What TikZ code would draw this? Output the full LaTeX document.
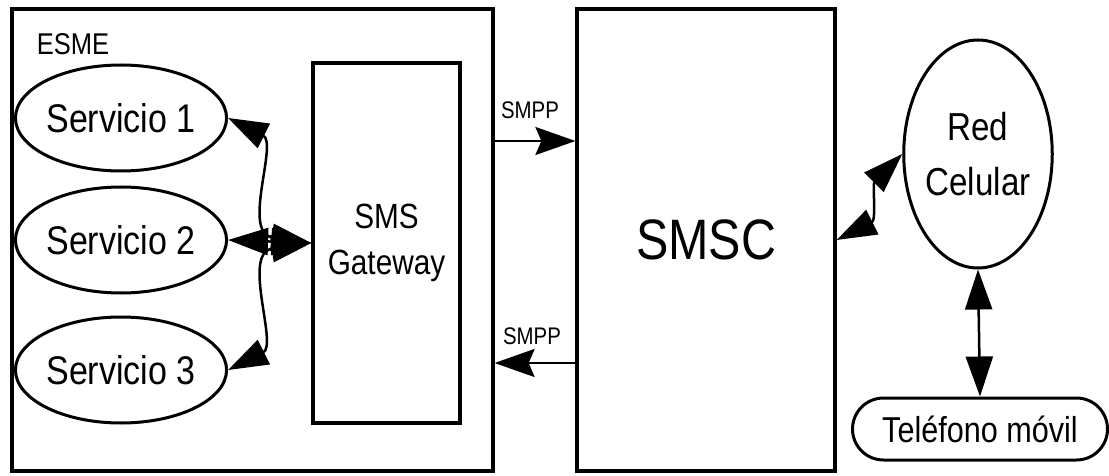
\documentclass[tikz,border=0pt]{standalone}
\usepackage{fontspec}
\setmainfont[FakeStretch=0.85]{Liberation Sans}
\usetikzlibrary{shapes.geometric,arrows.meta}

\begin{document}
\begin{tikzpicture}[x=1pt,y=-1pt,
    box/.style={draw,rectangle,line width=3.2pt,inner sep=0pt},
    serv/.style={draw,ellipse,line width=3pt,inner sep=0pt,
      minimum width=198pt,minimum height=106pt,font=\fontsize{40}{44}\selectfont},
    dbl/.style={line width=2.5pt,{Triangle[length=40pt,width=27pt]}-{Triangle[length=40pt,width=27pt]}},
    smpp/.style={line width=2.5pt,-{Stealth[length=40pt,width=28pt,inset=6pt]}}]
      \useasboundingbox (0,0) rectangle (1109,476);
      %
      \node[box,minimum width=481pt,minimum height=462pt] (esme) at (252.5,240) {};
      \node[font=\fontsize{30}{34}\selectfont] (esmelbl) at (73,44) {ESME};
      \node[box,minimum width=258pt,minimum height=462pt,font=\fontsize{57}{62}\selectfont] (smsc) at (706,240) {SMSC};
      \node[box,minimum width=147pt,minimum height=360pt,align=center,
        font=\fontsize{35}{46}\selectfont] (gw) at (386.5,243) {SMS\\Gateway};
      %
      \node[serv] (s1) at (121,118) {Servicio 1};
      \node[serv] (s2) at (121,240) {Servicio 2};
      \node[serv] (s3) at (121,370) {Servicio 3};
      %
      \node[draw,ellipse,line width=3pt,inner sep=0pt,minimum width=126pt,minimum height=228pt,
        align=center,font=\fontsize{39}{55}\selectfont] (red) at (978,154) {Red\\Celular};
      \node[draw,rectangle,rounded corners=31pt,line width=3pt,minimum width=255pt,minimum height=62pt,
        font=\fontsize{36}{40}\selectfont] (tel) at (980,429) {Teléfono móvil};
      %
      \draw[dbl] (s1.east) .. controls +(50,25) and +(-70,-10) .. (gw.west);
      \draw[dbl] (s2.east) -- (gw.west);
      \draw[dbl] (s3.east) .. controls +(50,-25) and +(-70,10) .. (gw.west);
      %
      \node[font=\fontsize{24}{28}\selectfont] (smppa) at (530,110) {SMPP};
      \node[font=\fontsize{24}{28}\selectfont] (smppb) at (532,336) {SMPP};
      \coordinate (ina) at (535,141);
      \coordinate (inb) at (535,363);
      \draw[smpp] (esme.east |- ina) -- (smsc.west |- ina);
      \draw[smpp] (smsc.west |- inb) -- (esme.east |- inb);
      %
      \draw[dbl] (smsc.east) .. controls +(40,-20) and +(-30,30) .. (red.west);
      \draw[dbl] (red.south) -- (tel.north);
    \end{tikzpicture}
\end{document}
